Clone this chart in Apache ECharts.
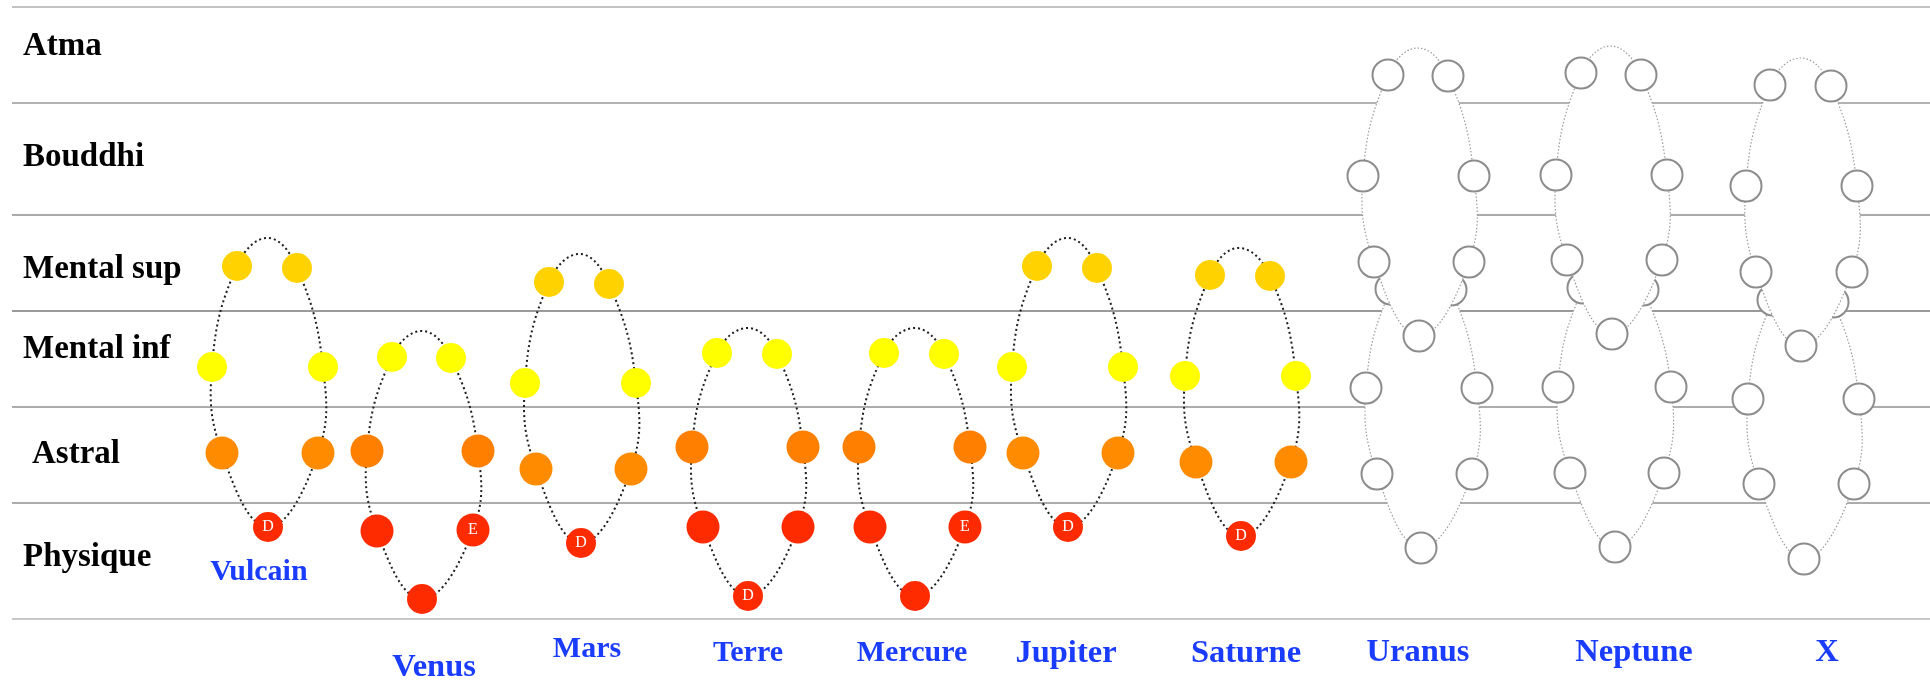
<!DOCTYPE html>
<html><head><meta charset="utf-8">
<script src="https://cdn.jsdelivr.net/npm/echarts@6/dist/echarts.min.js"></script>
<style>html,body{margin:0;padding:0;background:#fff}#c{width:1930px;height:681px}</style>
</head><body><div id="c"></div>
<script>
// ---- planes (rows) ----
const planes = ['Atma', 'Bouddhi', 'Mental sup', 'Mental inf', 'Astral', 'Physique'];
const planeLabelX = [23, 23, 23, 23, 32, 23];
const planeLabelH = [573, 462, 350, 270, 165, 62];
const boundaryH = [612, 516, 404, 308, 212, 116, 0];
const boundaryColor = ['#c2c2c2', '#b2b2b2', '#aaaaaa', '#9a9a9a', '#acacac', '#acacac', '#c8c8c8'];

// ---- planets (chains) ----
const planets = ['Vulcain', 'Venus', 'Mars', 'Terre', 'Mercure', 'Jupiter', 'Saturne', 'Uranus', 'Neptune', 'X'];
const planetLabelX = [259, 434, 587, 748, 912, 1066, 1246, 1418, 1634, 1827];
const planetLabelH = [47, -49, -30, -34, -34, -35, -35, -34, -34, -34];
const planetLabelSize = [30, 32.5, 30, 30, 30, 32.5, 32.5, 32.5, 32.5, 32.5];

// globes A..G (A top-left, B, C, D bottom, E, F, G top-right); top = crest of the loop
const vulcainX = [237, 212, 222, 268, 318, 323, 297];
const vulcainH = [353, 252, 166, 92, 166, 252, 351];
const vulcainTop = [268, 381];
const venusX = [392, 367, 377, 422, 473, 478, 451];
const venusH = [262, 168, 88, 20, 89, 168, 261];
const venusTop = [422, 288];
const marsX = [549, 525, 536, 581, 631, 636, 609];
const marsH = [337, 236, 150, 76, 150, 236, 335];
const marsTop = [580, 365];
const terreX = [717, 692, 703, 748, 798, 803, 777];
const terreH = [266, 172, 92, 23, 92, 172, 265];
const terreTop = [748, 291];
const mercureX = [884, 859, 870, 915, 965, 970, 944];
const mercureH = [266, 172, 92, 23, 92, 172, 265];
const mercureTop = [915, 291];
const jupiterX = [1037, 1012, 1023, 1068, 1118, 1123, 1097];
const jupiterH = [353, 252, 166, 92, 166, 252, 351];
const jupiterTop = [1068, 381];
const saturneX = [1210, 1185, 1196, 1241, 1291, 1296, 1270];
const saturneH = [344, 243, 157, 83, 157, 243, 343];
const saturneTop = [1239, 371];

const uranusUpX = [1388, 1363, 1374, 1419, 1469, 1474, 1448];
const uranusUpH = [544, 443, 357, 283, 357, 443, 543];
const uranusUpTop = [1418, 571];
const uranusLowX = [1391, 1366, 1377, 1421, 1472, 1477, 1451];
const uranusLowH = [330, 231, 145, 71, 145, 231, 329];
const uranusLowTop = [1421, 357];
const neptuneUpX = [1581, 1556, 1567, 1612, 1662, 1667, 1641];
const neptuneUpH = [546, 444, 359, 285, 359, 444, 544];
const neptuneUpTop = [1611, 573];
const neptuneLowX = [1583, 1558, 1570, 1615, 1664, 1671, 1643];
const neptuneLowH = [331, 232, 146, 72, 146, 232, 329];
const neptuneLowTop = [1613, 358];
const xUpX = [1770, 1746, 1756, 1801, 1852, 1857, 1831];
const xUpH = [534, 433, 347, 273, 347, 433, 533];
const xUpTop = [1801, 561];
const xLowX = [1773, 1748, 1759, 1804, 1854, 1859, 1833];
const xLowH = [319, 220, 135, 60, 135, 220, 317];
const xLowTop = [1803, 346];

const globeTags = {Vulcain: [3, 'D'], Venus: [4, 'E'], Mars: [3, 'D'], Terre: [3, 'D'], Mercure: [4, 'E'], Jupiter: [3, 'D'], Saturne: [3, 'D']};

const GOLD = '#ffd200', YELLOW = '#ffff00', ORANGE = '#ff8c00', ORANGE2 = '#ff7f00', RED = '#ff2b00';
const SERIF = "'Liberation Serif', 'Times New Roman', serif";

function bandColor(h, astral) {
  if (h >= boundaryH[3]) return GOLD;
  if (h >= boundaryH[4]) return YELLOW;
  if (h >= boundaryH[5]) return astral;
  return RED;
}

const series = [];
let z = 1;

// plane boundary lines
boundaryH.forEach((h, i) => {
  series.push({
    type: 'line', z: z, silent: true, symbol: 'none', animation: false,
    data: [[12, h], [1930, h]],
    lineStyle: {color: boundaryColor[i], width: 2}
  });
});
z++;

const PATH_ORDER = [0, 'top', 6, 5, 4, 3, 2, 1];

function addChain(name, xs, hs, top, ghost, astral) {
  const zPath = ++z;
  series.push({
    type: 'custom', z: zPath, silent: true, animation: false,
    data: [[top[0], top[1]]],
    renderItem: function (params, api) {
      const pts = PATH_ORDER.map(k => k === 'top' ? api.coord(top) : api.coord([xs[k], hs[k]]));
      return {
        type: 'polygon',
        shape: {points: pts, smooth: 0.42},
        style: ghost
          ? {fill: '#ffffff', stroke: '#9a9a9a', lineWidth: 1.2, lineDash: [1.5, 2]}
          : {fill: 'none', stroke: '#1e1e1e', lineWidth: 2, lineDash: [2, 3]}
      };
    }
  });
  const tag = globeTags[name];
  const zG = ++z;
  series.push({
    type: 'scatter', z: zG, silent: true, animation: false, symbol: 'circle',
    data: xs.map((x, i) => {
      const h = hs[i];
      let item;
      if (ghost) {
        item = {value: [x, h], symbolSize: 31,
          itemStyle: {color: '#ffffff', borderColor: '#8c8c8c', borderWidth: 2, opacity: 1}};
      } else {
        const col = bandColor(h, astral);
        let size = (col === GOLD || col === YELLOW) ? 30 : 33;
        if (i === 3) size = 30;
        item = {value: [x, h], symbolSize: size, itemStyle: {color: col, opacity: 1}};
        if (tag && tag[0] === i) {
          item.label = {show: true, position: 'inside', formatter: tag[1], color: '#ffffff',
            fontFamily: SERIF, fontSize: 16};
        }
      }
      return item;
    })
  });
}

addChain('Vulcain', vulcainX, vulcainH, vulcainTop, false, ORANGE);
addChain('Venus', venusX, venusH, venusTop, false, ORANGE2);
addChain('Mars', marsX, marsH, marsTop, false, ORANGE);
addChain('Terre', terreX, terreH, terreTop, false, ORANGE2);
addChain('Mercure', mercureX, mercureH, mercureTop, false, ORANGE2);
addChain('Jupiter', jupiterX, jupiterH, jupiterTop, false, ORANGE);
addChain('Saturne', saturneX, saturneH, saturneTop, false, ORANGE);
addChain('UranusLow', uranusLowX, uranusLowH, uranusLowTop, true);
addChain('UranusUp', uranusUpX, uranusUpH, uranusUpTop, true);
addChain('NeptuneLow', neptuneLowX, neptuneLowH, neptuneLowTop, true);
addChain('NeptuneUp', neptuneUpX, neptuneUpH, neptuneUpTop, true);
addChain('XLow', xLowX, xLowH, xLowTop, true);
addChain('XUp', xUpX, xUpH, xUpTop, true);

// plane labels
series.push({
  type: 'scatter', z: 200, silent: true, animation: false, symbolSize: 1,
  itemStyle: {color: 'rgba(0,0,0,0)', opacity: 1},
  data: planes.map((p, i) => ({value: [planeLabelX[i], planeLabelH[i]], name: p})),
  label: {show: true, position: 'inside', align: 'left', verticalAlign: 'middle',
    formatter: p => p.name, color: '#000000', fontFamily: SERIF, fontWeight: 'bold', fontSize: 33}
});
// planet labels
series.push({
  type: 'scatter', z: 200, silent: true, animation: false, symbolSize: 1,
  itemStyle: {color: 'rgba(0,0,0,0)', opacity: 1},
  data: planets.map((p, i) => ({value: [planetLabelX[i], planetLabelH[i]], name: p,
    label: {fontSize: planetLabelSize[i]}})),
  label: {show: true, position: 'inside', align: 'center', verticalAlign: 'middle',
    formatter: p => p.name, color: '#1a3cff', fontFamily: SERIF, fontWeight: 'bold', fontSize: 30}
});

const chart = echarts.init(document.getElementById('c'), null, {renderer: 'canvas'});
chart.setOption({
  animation: false,
  backgroundColor: '#ffffff',
  grid: {left: 0, right: 0, top: 0, bottom: 0},
  xAxis: {type: 'value', min: 0, max: 1930, show: false},
  yAxis: {type: 'value', min: -62, max: 619, show: false},
  series: series
});
</script></body></html>
